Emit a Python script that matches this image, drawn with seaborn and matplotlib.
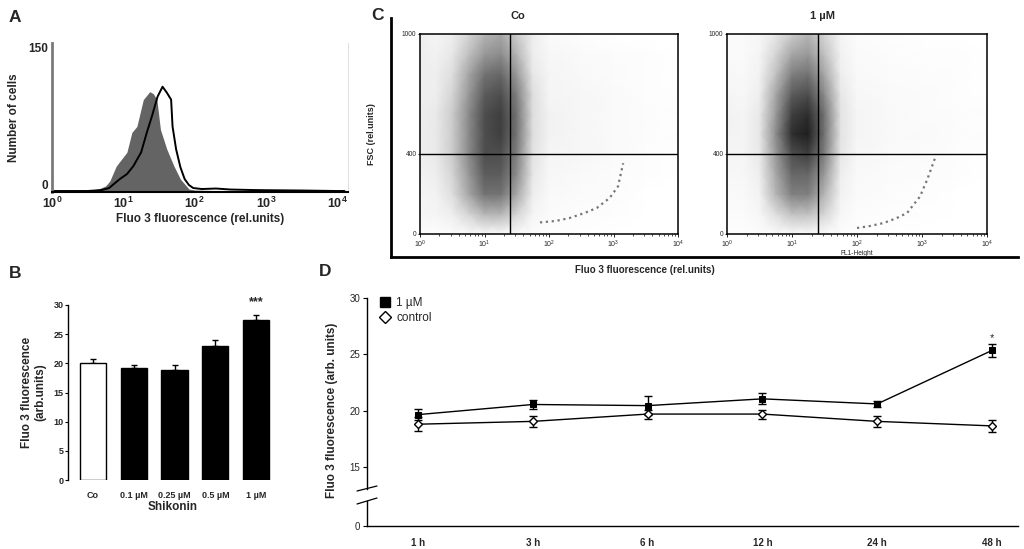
import numpy as np
import pandas as pd
import matplotlib
matplotlib.use('Agg')
import matplotlib.pyplot as plt
import seaborn as sns
from matplotlib.lines import Line2D
from matplotlib.ticker import LogLocator, NullFormatter

# ---------------- DATA ----------------
# Panel A: histogram outlines (log10 fluorescence, number of cells)
hist_ctrl_log = [0.0, 0.5, 0.65, 0.75, 0.81, 0.9, 1.05, 1.12, 1.19, 1.28, 1.37, 1.42, 1.47,
                 1.52, 1.61, 1.71, 1.8, 1.92, 2.0, 2.5, 3.0, 3.5, 4.1]
hist_ctrl_count = [1, 1, 3, 6, 11, 26, 40, 60, 66, 93, 101, 99, 93,
                   63, 43, 26, 13, 3, 2, 1, 1, 1, 1]
hist_treat_log = [0.0, 0.5, 0.7, 0.8, 0.95, 1.05, 1.14, 1.25, 1.33, 1.40, 1.48, 1.55, 1.61,
                  1.67, 1.69, 1.74, 1.8, 1.86, 1.92, 1.98, 2.1, 2.3, 2.5, 2.8, 3.0, 3.5, 4.0, 4.1]
hist_treat_count = [1, 1, 2, 4, 13, 18, 26, 40, 60, 76, 96, 106, 100,
                    93, 66, 43, 25, 13, 7, 4, 3, 3.5, 2.5, 2, 1.8, 1.5, 1, 1]

# Panel B: bar chart
b_labels = ['Co', '0.1 µM', '0.25 µM', '0.5 µM', '1 µM']
b_values = [20.1, 19.2, 18.9, 22.9, 27.4]
b_err = [0.7, 0.5, 0.8, 1.1, 0.9]
b_colors = ['white', 'black', 'black', 'black', 'black']

# Panel C: dot-plot density grids (rows: FSC 1000 -> 0, cols: log10 FL1 nodes)
c_x_nodes = [0, 0.25, 0.5, 0.75, 1.0, 1.25, 1.5, 1.75, 2.0, 2.5, 3.0, 3.5, 4.0]
c_y_nodes = [1000, 900, 800, 700, 600, 500, 400, 300, 200, 100, 0]
dens_co = [
    [.15, .10, .15, .30, .45, .50, .35, .15, .05, .02, 0, 0, 0],
    [.15, .12, .20, .40, .55, .60, .45, .15, .08, .05, .03, .02, 0],
    [.15, .15, .25, .50, .70, .75, .55, .20, .10, .06, .04, .02, 0],
    [.15, .15, .30, .55, .80, .85, .65, .25, .10, .08, .05, .02, .02],
    [.15, .18, .35, .60, .85, .90, .70, .25, .12, .08, .05, .03, .02],
    [.15, .18, .35, .60, .85, .90, .70, .25, .12, .08, .05, .03, .02],
    [.15, .18, .35, .60, .85, .85, .65, .22, .10, .08, .05, .02, 0],
    [.12, .15, .30, .55, .80, .80, .60, .20, .08, .05, .03, .02, 0],
    [.10, .12, .25, .50, .70, .70, .50, .15, .06, .04, .03, 0, 0],
    [.08, .10, .15, .30, .45, .45, .30, .10, .04, .03, .02, 0, 0],
    [.02, .02, .05, .05, .05, .05, .05, .03, .02, .01, 0, 0, 0],
]
dens_1um = [
    [.05, .05, .08, .20, .35, .45, .30, .10, .03, .02, 0, 0, 0],
    [.05, .05, .10, .30, .50, .55, .40, .12, .05, .03, .02, .02, 0],
    [.08, .06, .12, .40, .65, .70, .50, .15, .06, .04, .03, .02, 0],
    [.10, .08, .15, .50, .80, .85, .60, .20, .08, .05, .04, .02, 0],
    [.12, .10, .18, .55, .90, .95, .70, .22, .10, .06, .04, .03, .02],
    [.12, .10, .20, .60, .95, 1.0, .70, .22, .10, .06, .05, .03, .02],
    [.10, .10, .18, .55, .85, .90, .65, .20, .08, .05, .04, .02, 0],
    [.08, .08, .15, .50, .75, .75, .55, .15, .06, .04, .03, .02, 0],
    [.06, .06, .12, .45, .65, .65, .45, .12, .05, .03, .02, 0, 0],
    [.04, .04, .08, .25, .40, .40, .30, .08, .03, .02, .01, 0, 0],
    [.02, .02, .03, .04, .05, .05, .04, .02, .01, 0, 0, 0, 0],
]
tail_co_log = [1.86, 2.1, 2.32, 2.55, 2.74, 2.94, 3.07, 3.15]
tail_co_fsc = [58, 65, 80, 105, 130, 180, 238, 354]
tail_1um_log = [2.0, 2.2, 2.41, 2.6, 2.77, 2.97, 3.08, 3.21]
tail_1um_fsc = [30, 40, 55, 78, 105, 188, 272, 388]
c_gate_x = 25
c_gate_y = 400

# Panel D: time course
d_times = ['1 h', '3 h', '6 h', '12 h', '24 h', '48 h']
d_treat = [19.65, 20.55, 20.45, 21.05, 20.6, 25.35]
d_treat_err = [0.5, 0.4, 0.85, 0.5, 0.25, 0.6]
d_ctrl = [18.8, 19.05, 19.7, 19.7, 19.05, 18.65]
d_ctrl_err = [0.6, 0.5, 0.4, 0.4, 0.5, 0.5]

# ---------------- STYLE ----------------
sns.set_theme(style='white')
plt.rcParams['font.family'] = ['Liberation Sans', 'DejaVu Sans']
plt.rcParams['mathtext.fontset'] = 'custom'
plt.rcParams['mathtext.rm'] = 'Liberation Sans'
plt.rcParams['mathtext.bf'] = 'Liberation Sans:bold'
plt.rcParams['axes.unicode_minus'] = False

W, H = 1024, 549
fig = plt.figure(figsize=(10.24, 5.49), dpi=100)


def rect(x0, y0, x1, y1):
    return [x0 / W, 1 - y1 / H, (x1 - x0) / W, (y1 - y0) / H]


def ftext(x, y, s, **kw):
    fig.text(x / W, 1 - y / H, s, **kw)


# panel letters
for lab, (lx, ly) in {'A': (15, 18), 'B': (15, 273), 'C': (377, 16), 'D': (325, 272)}.items():
    ftext(lx, ly, lab, fontsize=12.5, fontweight='bold', ha='center', va='center')

# ---------------- PANEL A ----------------
axA = fig.add_axes(rect(52, 43, 348, 192))
axA.set_xscale('log')
axA.fill_between(10 ** np.array(hist_ctrl_log), hist_ctrl_count, color='#646464', lw=0)
sns.lineplot(x=10 ** np.array(hist_treat_log), y=hist_treat_count, ax=axA,
             color='black', lw=1.4, sort=False)
axA.set_xlim(1, 10 ** 4.15)
axA.set_ylim(0, 150)
axA.spines['top'].set_visible(False)
axA.spines['left'].set_color('#7a7a7a')
axA.spines['left'].set_linewidth(2)
axA.spines['bottom'].set_color('black')
axA.spines['bottom'].set_linewidth(1.5)
axA.spines['right'].set_color('#e0e0e0')
axA.spines['right'].set_linewidth(0.8)
axA.set_xticks([1, 10, 100, 1000, 10000])
axA.set_xticklabels([r'$\mathbf{10^{%d}}$' % i for i in range(5)], fontsize=9)
axA.xaxis.set_minor_locator(plt.NullLocator())
axA.set_yticks([0, 150])
axA.set_yticklabels(['0', '150'], fontsize=8.5, fontweight='bold')
for lbl in axA.get_yticklabels():
    if lbl.get_text() == '0':
        lbl.set_verticalalignment('bottom')
    else:
        lbl.set_verticalalignment('top')
axA.tick_params(axis='x', length=2, pad=1, color='black')
axA.tick_params(axis='y', length=0, pad=3)
axA.set_xlabel('Fluo 3 fluorescence (rel.units)', fontsize=8.5, fontweight='bold', labelpad=1)
axA.set_ylabel('Number of cells', fontsize=8.5, fontweight='bold', labelpad=6)

# ---------------- PANEL B ----------------
axB = fig.add_axes(rect(68, 305, 277, 480))
dfB = pd.DataFrame({'cond': b_labels, 'val': b_values})
sns.barplot(data=dfB, x='cond', y='val', hue='cond', order=b_labels,
            palette=dict(zip(b_labels, b_colors)), edgecolor='black', linewidth=1,
            width=0.64, ax=axB, legend=False, errorbar=None, zorder=3)
axB.errorbar(range(len(b_values)), b_values, yerr=[np.zeros(len(b_err)), b_err],
             fmt='none', ecolor='black', elinewidth=1, capsize=2.5, capthick=1, zorder=2)
axB.set_xlim(-0.61, 4.51)
axB.set_ylim(0, 30)
axB.set_yticks([0, 5, 10, 15, 20, 25, 30])
axB.set_yticklabels([str(v) for v in [0, 5, 10, 15, 20, 25, 30]], fontsize=6.5, fontweight='bold')
axB.set_xticks(range(5))
axB.set_xticklabels(b_labels, fontsize=6.5, fontweight='bold')
for s in ['top', 'right', 'bottom']:
    axB.spines[s].set_visible(False)
axB.spines['left'].set_color('black')
axB.spines['left'].set_linewidth(1)
axB.tick_params(axis='y', left=True, length=2, width=0.8, pad=1, color='black')
axB.tick_params(axis='x', length=0, pad=8)
axB.set_xlabel('Shikonin', fontsize=8.5, fontweight='bold', labelpad=1)
axB.set_ylabel('Fluo 3 fluorescence\n(arb.units)', fontsize=8.5, fontweight='bold', labelpad=5)
axB.text(4, 30.5, '***', ha='center', va='center', fontsize=9, fontweight='bold')

# ---------------- PANEL C ----------------
axC = fig.add_axes(rect(391, 18, 1018, 257), zorder=0)
axC.patch.set_visible(False)
for s in ['top', 'right']:
    axC.spines[s].set_visible(False)
for s in ['left', 'bottom']:
    axC.spines[s].set_color('black')
    axC.spines[s].set_linewidth(2)
axC.set_xticks([])
axC.set_yticks([])

Xn = 10 ** np.array(c_x_nodes)
Yn = np.array(c_y_nodes)[::-1]
panels = [
    (420, 678, 518, 'Co', dens_co, tail_co_log, tail_co_fsc, False),
    (727, 987, 823, '1 µM', dens_1um, tail_1um_log, tail_1um_fsc, True),
]
for (x0, x1, tx, title, dens, tlog, tfsc, show_fl1) in panels:
    ax = fig.add_axes(rect(x0, 34, x1, 234), zorder=2)
    ax.set_xscale('log')
    ax.pcolormesh(Xn, Yn, np.array(dens)[::-1], shading='gouraud', cmap='Greys',
                  vmin=0, vmax=1.12, rasterized=True)
    sns.lineplot(x=10 ** np.array(tlog), y=tfsc, ax=ax, color='#777777', lw=1.6,
                 ls=':', sort=False)
    ax.axvline(c_gate_x, color='black', lw=1)
    ax.axhline(c_gate_y, color='black', lw=1)
    ax.set_xlim(1, 1e4)
    ax.set_ylim(0, 1000)
    for s in ax.spines.values():
        s.set_color('black')
        s.set_linewidth(1.1)
    ax.set_xticks([1, 10, 100, 1000, 10000])
    ax.set_xticklabels([r'$10^{%d}$' % i for i in range(5)], fontsize=5)
    ax.xaxis.set_minor_locator(LogLocator(base=10, subs=np.arange(2, 10)))
    ax.xaxis.set_minor_formatter(NullFormatter())
    ax.set_yticks([0, 400, 1000])
    ax.set_yticklabels(['0', '400', '1000'], fontsize=4.8)
    ax.tick_params(axis='x', which='major', bottom=True, length=2.5, width=0.6, pad=1, color='black')
    ax.tick_params(axis='x', which='minor', bottom=True, length=1.5, width=0.5, color='black')
    ax.tick_params(axis='y', left=True, length=1.5, width=0.6, pad=1, color='black')
    if show_fl1:
        ax.set_xlabel('FL1-Height', fontsize=4.8, labelpad=0)
    ftext(tx, 16, title, fontsize=8, fontweight='bold', ha='center', va='center')

ftext(372, 134, 'FSC (rel.units)', fontsize=6.5, fontweight='bold', rotation=90,
      ha='center', va='center')
ftext(645, 270, 'Fluo 3 fluorescence (rel.units)', fontsize=7, fontweight='bold',
      ha='center', va='center')

# ---------------- PANEL D ----------------
axD = fig.add_axes(rect(367, 298, 1018, 489))
axD0 = fig.add_axes(rect(367, 501, 1018, 526))
xi = np.arange(len(d_times))

axD.errorbar(xi, d_treat, yerr=d_treat_err, fmt='none', ecolor='black', elinewidth=1,
             capsize=3, capthick=1, zorder=2)
axD.errorbar(xi, d_ctrl, yerr=d_ctrl_err, fmt='none', ecolor='black', elinewidth=1,
             capsize=3, capthick=1, zorder=2)
sns.lineplot(x=xi, y=d_treat, ax=axD, color='black', lw=1, marker='s', markersize=5,
             markerfacecolor='black', markeredgecolor='black', zorder=3)
sns.lineplot(x=xi, y=d_ctrl, ax=axD, color='black', lw=1, marker='D', markersize=4.5,
             markerfacecolor='white', markeredgecolor='black', markeredgewidth=1, zorder=3)
axD.text(5, 26.0, '*', ha='center', va='bottom', fontsize=8)

for a in (axD, axD0):
    a.set_xlim(-0.444, 5.226)
    for s in ['top', 'right']:
        a.spines[s].set_visible(False)
    a.spines['left'].set_color('black')
    a.spines['left'].set_linewidth(1)
    a.tick_params(axis='y', left=True, length=3, width=0.8, pad=2, color='black', labelsize=7)
axD.spines['bottom'].set_visible(False)
axD.set_ylim(13.05, 30)
axD.set_yticks([15, 20, 25, 30])
axD.set_xticks([])
axD0.set_ylim(0, 2.2)
axD0.set_yticks([0])
axD0.spines['bottom'].set_color('black')
axD0.spines['bottom'].set_linewidth(1)
axD0.set_xticks(xi)
axD0.set_xticklabels(d_times, fontsize=7, fontweight='bold')
axD0.tick_params(axis='x', length=0, pad=9)

# axis break marks
for (xa, ya, xb, yb) in [(357, 491, 377, 486), (357, 504, 377, 498)]:
    fig.add_artist(Line2D([xa / W, xb / W], [1 - ya / H, 1 - yb / H], color='black', lw=0.9,
                          transform=fig.transFigure))

ftext(332, 410, 'Fluo 3 fluorescence (arb. units)', fontsize=8.5, fontweight='bold',
      rotation=90, ha='center', va='center')

handles = [
    Line2D([], [], marker='s', ls='none', color='black', markersize=7, label='1 µM'),
    Line2D([], [], marker='D', ls='none', markerfacecolor='white', markeredgecolor='black',
           markeredgewidth=1, markersize=6, label='control'),
]
axD.legend(handles=handles, loc='upper left', bbox_to_anchor=(0.012, 1.03), frameon=False,
           fontsize=8.5, handlelength=1.0, handletextpad=0.4, labelspacing=0.25,
           borderaxespad=0)

fig.savefig('out.png', dpi=100)
